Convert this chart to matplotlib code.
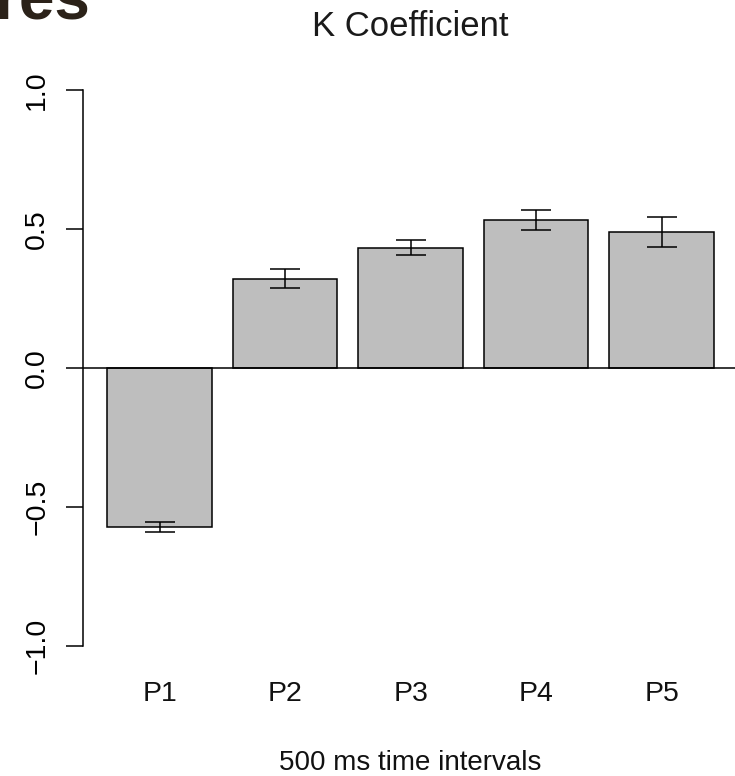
import matplotlib
matplotlib.use("Agg")
import matplotlib.pyplot as plt

# K coefficient per 500 ms interval, mean and error
periods = ["P1", "P2", "P3", "P4", "P5"]
k_mean = [-0.573, 0.320, 0.432, 0.531, 0.487]
k_err = [0.019, 0.034, 0.028, 0.037, 0.054]

plt.rcParams["font.family"] = ["Liberation Sans", "DejaVu Sans"]

W, H = 735, 776
fig = plt.figure(figsize=(W / 100, H / 100), dpi=100)
fig.patch.set_facecolor("white")

# plot region (extends a little past the right edge)
left, right, top, bottom = 83.0, 738.3, 67.5, 668.0
ax = fig.add_axes([left / W, 1 - bottom / H, (right - left) / W, (bottom - top) / H])

# bar layout: width 1, space 0.2
xpos = [0.2 + 0.5 + i * 1.2 for i in range(len(periods))]
ax.bar(xpos, k_mean, width=1.0, color="#bebebe", edgecolor="black",
       linewidth=1.1, zorder=2)
ax.errorbar(xpos, k_mean, yerr=k_err, fmt="none", ecolor="black",
            elinewidth=1.1, capsize=10.8, capthick=1.1, zorder=3)
ax.axhline(0, color="black", linewidth=1.1, zorder=4)

ax.set_xlim(-0.032, 6.232)
ax.set_ylim(-1.08, 1.08)

for side in ["top", "right", "bottom"]:
    ax.spines[side].set_visible(False)
ax.spines["left"].set_bounds(-1, 1)
ax.spines["left"].set_linewidth(1.1)

ax.set_yticks([-1.0, -0.5, 0.0, 0.5, 1.0])
ax.set_yticklabels(["\u22121.0", "\u22120.5", "0.0", "0.5", "1.0"])
ax.tick_params(axis="y", length=12, width=1.1, pad=11.5, labelsize=20.5,
               colors="black")
for lab in ax.get_yticklabels():
    lab.set_rotation(90)
    lab.set_va("center")

ax.set_xticks(xpos)
ax.set_xticklabels(periods)
ax.tick_params(axis="x", length=0, pad=9.5, labelsize=20.5, colors="#111111")

ax.set_facecolor("white")
ax.patch.set_alpha(0)

cx = (left + right) / 2 / W
fig.text(cx, 1 - 36 / H, "K Coefficient", ha="center", va="baseline",
         fontsize=25, color="#1a1a1a")
fig.text(cx, 1 - 770 / H, "500 ms time intervals", ha="center",
         va="baseline", fontsize=20, color="#111111")

# tail of the page heading above the chart
fig.text(-5 / W, 1 - 19 / H, "res", ha="left", va="baseline",
         fontsize=46, fontweight="bold", color="#2b2219")

fig.savefig("out.png", dpi=100, facecolor="white")
